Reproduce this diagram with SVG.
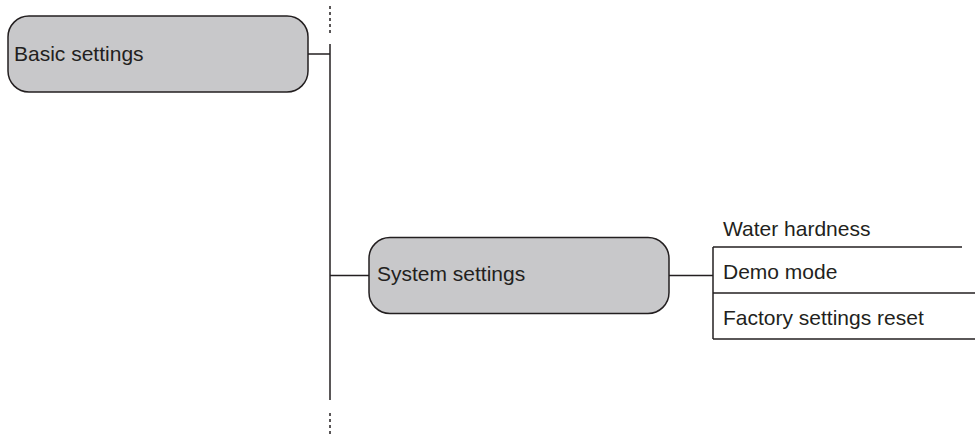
<svg xmlns="http://www.w3.org/2000/svg" width="975" height="437" viewBox="0 0 975 437">
<style>
.box{fill:#c8c8ca;stroke:#231f20;stroke-width:1.5}
.ln{stroke:#231f20;stroke-width:1.5;fill:none}
.dot{stroke:#231f20;stroke-width:1.5;fill:none;stroke-dasharray:3 3}
text{font-family:"Liberation Sans",Arial,sans-serif;font-size:21px;fill:#231f20}
</style>
<rect width="975" height="437" fill="#ffffff"/>
<g id="connectors">
<line class="dot" x1="330" y1="6" x2="330" y2="33"/>
<line class="ln" x1="330" y1="44" x2="330" y2="400"/>
<line class="dot" x1="330" y1="413" x2="330" y2="437"/>
<line class="ln" x1="308" y1="54" x2="330" y2="54"/>
<line class="ln" x1="330" y1="275.5" x2="369" y2="275.5"/>
<line class="ln" x1="669" y1="275.5" x2="713" y2="275.5"/>
<line class="ln" x1="713" y1="247" x2="713" y2="339"/>
<line class="ln" x1="713" y1="247" x2="962" y2="247"/>
<line class="ln" x1="713" y1="293" x2="975" y2="293"/>
<line class="ln" x1="713" y1="339" x2="975" y2="339"/>
</g>
<g id="basic-settings">
<rect class="box" x="8" y="16" width="300" height="76" rx="21" ry="21"/>
<text x="14" y="61">Basic settings</text>
</g>
<g id="system-settings">
<rect class="box" x="369" y="237.5" width="300" height="76" rx="21" ry="21"/>
<text x="377" y="281">System settings</text>
</g>
<g id="water-hardness">
<text x="723" y="236">Water hardness</text>
</g>
<g id="demo-mode">
<text x="723" y="279">Demo mode</text>
</g>
<g id="factory-settings-reset">
<text x="723" y="325">Factory settings reset</text>
</g>
</svg>
